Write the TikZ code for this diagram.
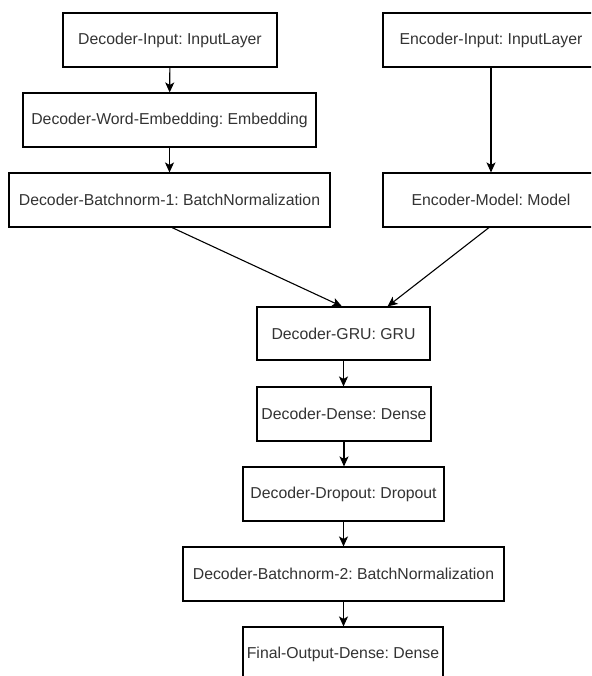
\documentclass[tikz,border=0pt]{standalone}
\usepackage{fontspec}
\setmainfont{Liberation Sans}
\usetikzlibrary{arrows.meta,calc}
\definecolor{labelgray}{HTML}{333333}
\frenchspacing
\tikzset{
  layer/.style={draw=black, line width=1.1pt, fill=white, rectangle, minimum height=54pt,
    inner sep=0pt, text=labelgray, font=\fontsize{15.8}{18}\selectfont, anchor=center},
  flow/.style={draw=black, line width=1.1pt, -{Stealth[length=10pt,width=9pt,inset=2.5pt]}}
}
\begin{document}
\begin{tikzpicture}[x=1pt,y=-1pt]
\useasboundingbox (0,0) rectangle (591,676);
\clip (0,0) rectangle (591,676);

% decoder input branch
\node[layer, minimum width=214pt] (din) at (170,40) {Decoder-Input: InputLayer};
\node[layer, minimum width=293pt] (demb) at (169.5,120) {Decoder-Word-Embedding: Embedding};
\node[layer, minimum width=321pt] (dbn1) at (169.5,200) {Decoder-Batchnorm-1: BatchNormalization};

% encoder branch
\node[layer, minimum width=216pt] (ein) at (491,40) {Encoder-Input: InputLayer};
\node[layer, minimum width=216pt] (emod) at (491,200) {Encoder-Model: Model};

% decoder stack
\node[layer, minimum width=173pt, minimum height=53pt] (gru) at (343.5,333.5) {Decoder-GRU: GRU};
\node[layer, minimum width=174pt] (dense) at (344,414) {Decoder-Dense: Dense};
\node[layer, minimum width=201pt] (drop) at (343.5,494) {Decoder-Dropout: Dropout};
\node[layer, minimum width=321pt] (dbn2) at (343.5,574) {Decoder-Batchnorm-2: BatchNormalization};
\node[layer, minimum width=200pt] (final) at (343,654) {Final-Output-Dense: Dense};

% connectors
\draw[flow] (din) -- (demb);
\draw[flow] (demb) -- (dbn1);
\draw[flow] (ein) -- (emod);
\draw[flow] ($(dbn1.south)+(2.5,0)$) -- ($(gru.north)+(-1.5,0)$);
\draw[flow] ($(emod.south)+(-2,0)$) -- ($(gru.north)+(44,0)$);
\draw[flow] (gru.south) -- (gru.south |- dense.north);
\draw[flow] (dense.south) -- (dense.south |- drop.north);
\draw[flow] (drop.south) -- (drop.south |- dbn2.north);
\draw[flow] (dbn2.south) -- (dbn2.south |- final.north);
\end{tikzpicture}
\end{document}
